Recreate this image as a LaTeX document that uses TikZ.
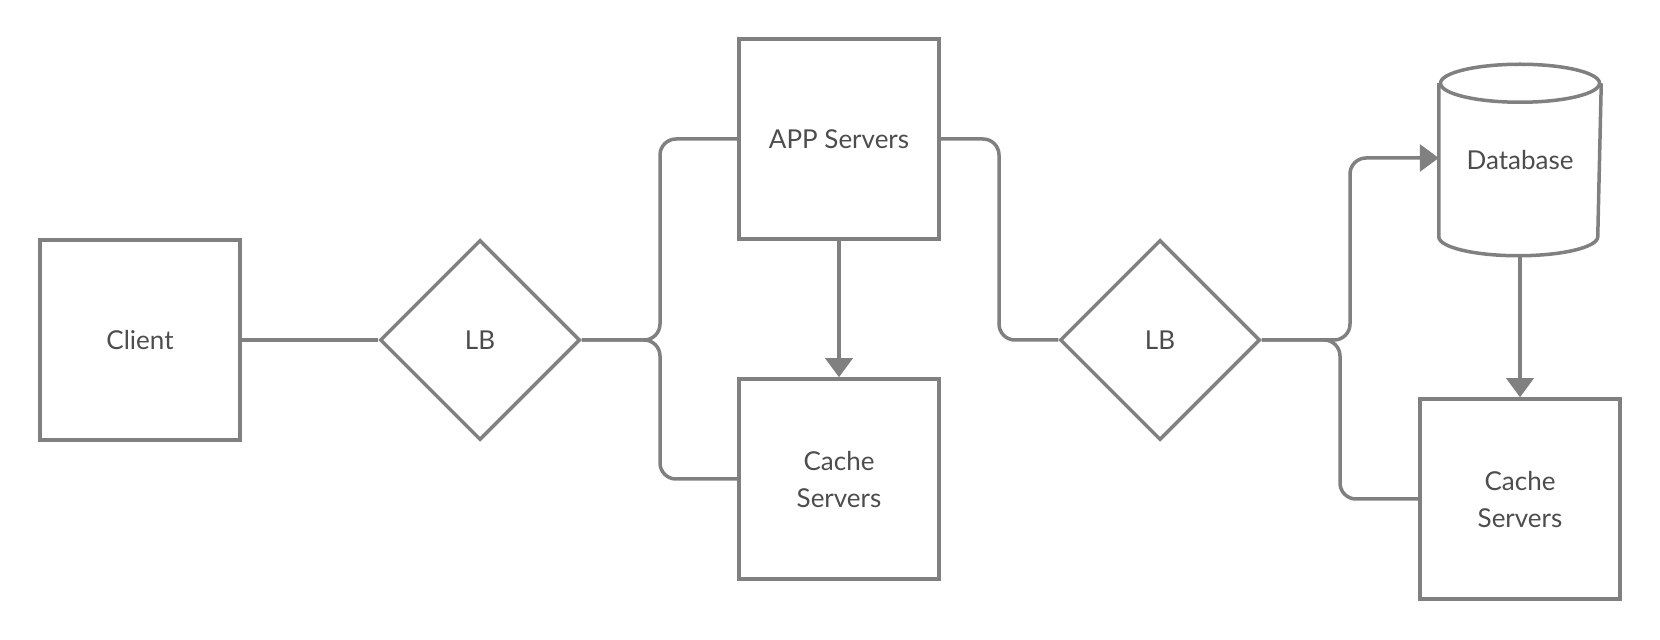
\documentclass[tikz,border=0pt]{standalone}
\usepackage{fontspec}
\setmainfont{Lato}
\usetikzlibrary{arrows.meta}
\usetikzlibrary{shapes.geometric}

\definecolor{linegray}{RGB}{128,128,128}
\definecolor{textgray}{RGB}{77,77,77}

\begin{document}
\begin{tikzpicture}[x=0.5pt,y=-0.5pt,
		box/.style={draw=linegray,line width=1.75pt,fill=white,minimum width=100pt,minimum height=100pt,inner sep=0pt,text=textgray,font=\fontsize{13}{18.5}\selectfont,align=center,text depth=-1.2pt},
		lb/.style={box,diamond},
		wire/.style={draw=linegray,line width=1.75pt,rounded corners=8pt},
		flow/.style={wire,-{Triangle[width=13.5pt,length=9.5pt]}}]
		\useasboundingbox (0,0) rectangle (1660,640);
		\node[box] (client) at (140,340) {Client};
		\node[lb] (lb1) at (480,340) {LB};
		\node[box] (app) at (839,139) {APP Servers};
		\node[box] (cache1) at (839,479) {Cache\\Servers};
		\node[lb] (lb2) at (1160,340) {LB};
		\node[box,draw=none,fill=none,minimum width=79.5pt,minimum height=94pt] (db) at (1520,160) {Database};
		\node[box] (cache2) at (1520,499) {Cache\\Servers};
		% database drawn by hand
		\draw[linegray,line width=1.75pt] ([yshift=-9.5pt]db.north west) -- ([yshift=9.5pt]db.south west) arc[start angle=180,end angle=360,x radius=39.75pt,y radius=9.5pt] -- ([yshift=-9.5pt]db.north east);
		\draw[linegray,line width=1.75pt] ([yshift=-9.5pt]db.north) ellipse[x radius=39.75pt,y radius=9.5pt];
		% connectors
		\draw[wire] (client) -- (lb1);
		\draw[wire] (lb1.east) -- (660,340) |- (app.west);
		\draw[wire] (lb1.east) -- (660,340) |- (cache1.west);
		\draw[flow] (app) -- (cache1);
		\draw[wire] (app.east) -- (999,139) |- (lb2.west);
		\draw[flow] (lb2.east) -- (1350,340) |- ([yshift=1pt]db.west);
		\draw[wire] (lb2.east) -- (1340,340) |- (cache2.west);
		\draw[flow] (db.south) -- (cache2.north);
\end{tikzpicture}
\end{document}
